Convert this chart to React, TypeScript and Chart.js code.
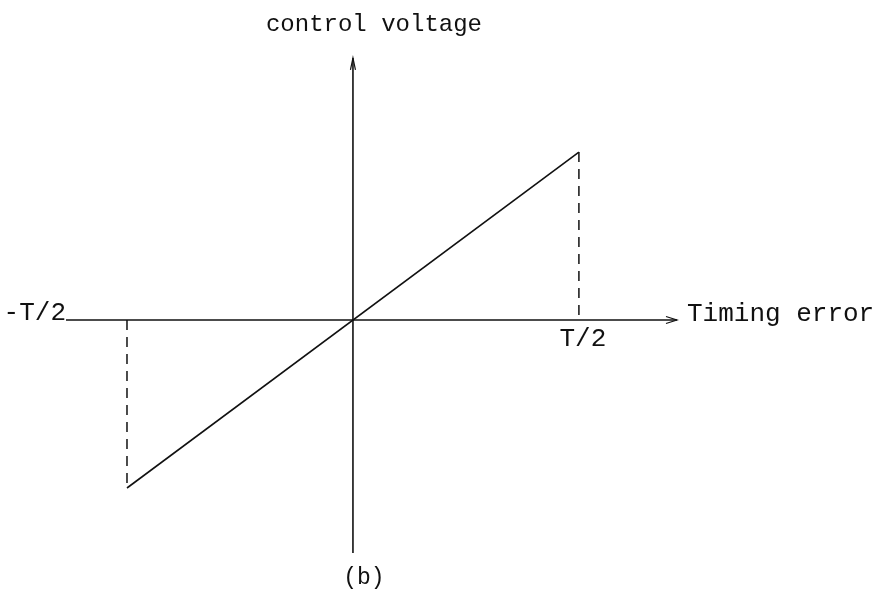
import { useEffect, useRef } from "react";
import { Chart, registerables } from "chart.js";

Chart.register(...registerables);

// Sawtooth transfer characteristic (in units of T on x, normalized voltage on y)
const rampX = [-0.5, 0.5];
const rampY = [-1, 1];

// Extents of the two drawn axes
const xAxisSpan = [-0.635, 0.717];
const yAxisSpan = [-1.387, 1.56];

// Visible value window of the canvas
const xWindow = [-0.781, 1.195];
const yWindow = [-1.631, 1.905];

// Text
const xTickLabels = ["-T/2", "T/2"];
const xTickValues = [-0.5, 0.5];
const xTitle = "Timing error";
const yTitle = "control voltage";
const caption = "(b)";

const INK = "#111111";
const FONT = '"Liberation Mono", "Courier New", monospace';

const annotate = {
  id: "annotate",
  afterDatasetsDraw(chart: any) {
    const { ctx } = chart;
    const xs = chart.scales.x;
    const ys = chart.scales.y;
    const px = (v: number) => xs.getPixelForValue(v);
    const py = (v: number) => ys.getPixelForValue(v);
    ctx.save();
    ctx.strokeStyle = INK;
    ctx.fillStyle = INK;
    ctx.lineWidth = 1.2;

    // arrowhead on the horizontal axis
    const hx = px(xAxisSpan[1]);
    const hy = py(0);
    ctx.beginPath();
    ctx.moveTo(hx - 11, hy - 3.5);
    ctx.lineTo(hx, hy);
    ctx.lineTo(hx - 11, hy + 3.5);
    ctx.stroke();

    // arrowhead on the vertical axis
    const vx = px(0);
    const vy = py(yAxisSpan[1]);
    ctx.beginPath();
    ctx.moveTo(vx - 2.5, vy + 12);
    ctx.lineTo(vx, vy);
    ctx.lineTo(vx + 2.5, vy + 12);
    ctx.stroke();

    ctx.textBaseline = "alphabetic";
    ctx.font = `26px ${FONT}`;

    // -T/2 at the left end of the horizontal axis
    ctx.textAlign = "right";
    ctx.fillText(xTickLabels[0], px(xAxisSpan[0]), py(0));

    // T/2 under its dashed drop line
    ctx.textAlign = "center";
    ctx.fillText(xTickLabels[1], px(xTickValues[1]) + 4, py(0) + 26);

    // horizontal axis title
    ctx.textAlign = "left";
    ctx.fillText(xTitle, px(xAxisSpan[1]) + 10, py(0) + 1);

    // vertical axis title
    ctx.font = `24px ${FONT}`;
    ctx.textAlign = "left";
    ctx.fillText(yTitle, px(0) - 87, 31);

    // caption under the vertical axis
    ctx.font = `23px ${FONT}`;
    ctx.textAlign = "center";
    ctx.fillText(caption, px(0) + 11, py(yAxisSpan[0]) + 31);

    ctx.restore();
  },
};

export default function App() {
  const canvasRef = useRef<HTMLCanvasElement | null>(null);

  useEffect(() => {
    document.body.style.margin = "0";
    document.body.style.background = "#ffffff";
    const canvas = canvasRef.current;
    if (!canvas) return;

    const line = (pts: { x: number; y: number }[], extra: any = {}) => ({
      data: pts,
      showLine: true,
      borderColor: INK,
      borderWidth: 1.4,
      pointRadius: 0,
      fill: false,
      tension: 0,
      ...extra,
    });

    const chart = new Chart(canvas, {
      type: "scatter",
      data: {
        datasets: [
          // horizontal axis
          line([
            { x: xAxisSpan[0], y: 0 },
            { x: xAxisSpan[1], y: 0 },
          ], { borderWidth: 1.3 }),
          // vertical axis
          line([
            { x: 0, y: yAxisSpan[0] },
            { x: 0, y: yAxisSpan[1] },
          ], { borderWidth: 1.6 }),
          // linear ramp
          line([
            { x: rampX[0], y: rampY[0] },
            { x: rampX[1], y: rampY[1] },
          ], { borderWidth: 1.6 }),
          // dashed drops at the ramp ends
          line([
            { x: rampX[0], y: 0 },
            { x: rampX[0], y: rampY[0] },
          ], { borderDash: [10, 7], borderWidth: 1.5 }),
          line([
            { x: rampX[1], y: rampY[1] },
            { x: rampX[1], y: 0 },
          ], { borderDash: [10, 7], borderWidth: 1.5 }),
        ],
      },
      options: {
        responsive: false,
        animation: false,
        devicePixelRatio: 1,
        layout: { padding: 0 },
        plugins: {
          legend: { display: false },
          tooltip: { enabled: false },
        },
        scales: {
          x: { type: "linear", min: xWindow[0], max: xWindow[1], display: false },
          y: { type: "linear", min: yWindow[0], max: yWindow[1], display: false },
        },
      },
      plugins: [annotate],
    });

    return () => chart.destroy();
  }, []);

  return (
    <div style={{ position: "absolute", left: 0, top: 0, width: 893, height: 594, background: "#fff" }}>
      <canvas ref={canvasRef} width={893} height={594} />
    </div>
  );
}
